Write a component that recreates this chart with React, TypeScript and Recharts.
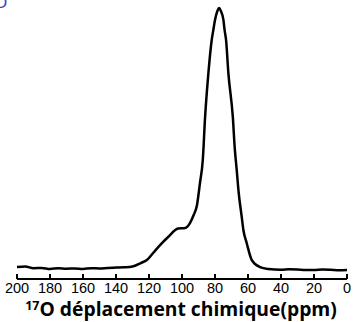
import React from "react";
import { LineChart, Line, XAxis, YAxis } from "recharts";

const ppm = [
  200, 195, 190, 185, 180, 175, 170, 165, 160, 155, 150, 145, 140, 135, 130,
  125, 121.3, 117.5, 113.3, 108.4, 102.4, 98.1, 95.1, 93, 91, 89.1, 87.4, 86.0,
  84.0, 82.0, 81.0, 80.0, 78.5, 77.5, 76.5, 74.9, 74.2, 73.3, 71.9, 69.2, 68.0,
  66.8, 65.8, 63.8, 62.8, 60.8, 57.7, 52.7, 47.7, 40, 35, 30, 25, 20, 15, 10, 5, 0,
];
const intensity = [
  4.4, 4.6, 4.0, 4.1, 3.7, 4.0, 3.8, 3.9, 3.7, 4.0, 3.9, 4.1, 4.2, 4.3, 4.6,
  5.9, 7.0, 9.6, 12.5, 15.5, 18.6, 18.8, 20.7, 23.5, 27, 35.5, 43.9, 59.8,
  76.0, 88.2, 91.9, 95.6, 99, 100, 99, 95.6, 91.9, 88.2, 76.0, 59.8, 48,
  40, 32.8, 22.9, 18.1, 13.3, 7.0, 4.4, 3.7, 3.4, 3.6, 3.5, 3.3, 3.3, 3.5, 3.4, 3.2, 3.3,
];
const xTicks = [0, 20, 40, 60, 80, 100, 120, 140, 160, 180, 200];
const titleSup = "17";
const titleMain = "O déplacement chimique(ppm)";

const data = ppm.map((p, i) => ({ ppm: p, v: intensity[i] }));

const TitleLabel = () => (
  <text
    x={181}
    y={316}
    textAnchor="middle"
    fontFamily="'Open Sans', sans-serif"
    fontWeight={700}
    fontSize={19.3}
    fill="#000"
  >
    <tspan fontSize={12.5} dy={-6}>{titleSup}</tspan>
    <tspan dy={6}>{titleMain}</tspan>
  </text>
);

export default function App() {
  return (
    <div style={{ position: "absolute", left: 0, top: 0, width: 354, height: 322, background: "#fff" }}>
      <LineChart
        width={354}
        height={322}
        data={data}
        margin={{ top: 8, right: 7, bottom: 13, left: 17 }}
      >
        <XAxis
          type="number"
          dataKey="ppm"
          domain={[0, 200]}
          reversed
          ticks={xTicks}
          interval={0}
          height={30}
          axisLine={{ stroke: "#000", strokeWidth: 2 }}
          tickLine={{ stroke: "#000", strokeWidth: 2 }}
          tickSize={-5}
          tickMargin={9}
          tick={{ fill: "#000", fontSize: 14.5, fontFamily: "'Liberation Sans', Arial, sans-serif" }}
          label={{ content: TitleLabel }}
        />
        <YAxis hide domain={[0, 100]} />
        <Line
          type="monotone"
          dataKey="v"
          stroke="#000"
          strokeWidth={2.5}
          dot={false}
          isAnimationActive={false}
        />
      </LineChart>
      <div
        style={{
          position: "absolute",
          left: -6,
          top: -7,
          color: "#3a3ac8",
          fontFamily: "'Liberation Sans', Arial, sans-serif",
          fontSize: 17,
          lineHeight: "20px",
        }}
      >
        O
      </div>
    </div>
  );
}
